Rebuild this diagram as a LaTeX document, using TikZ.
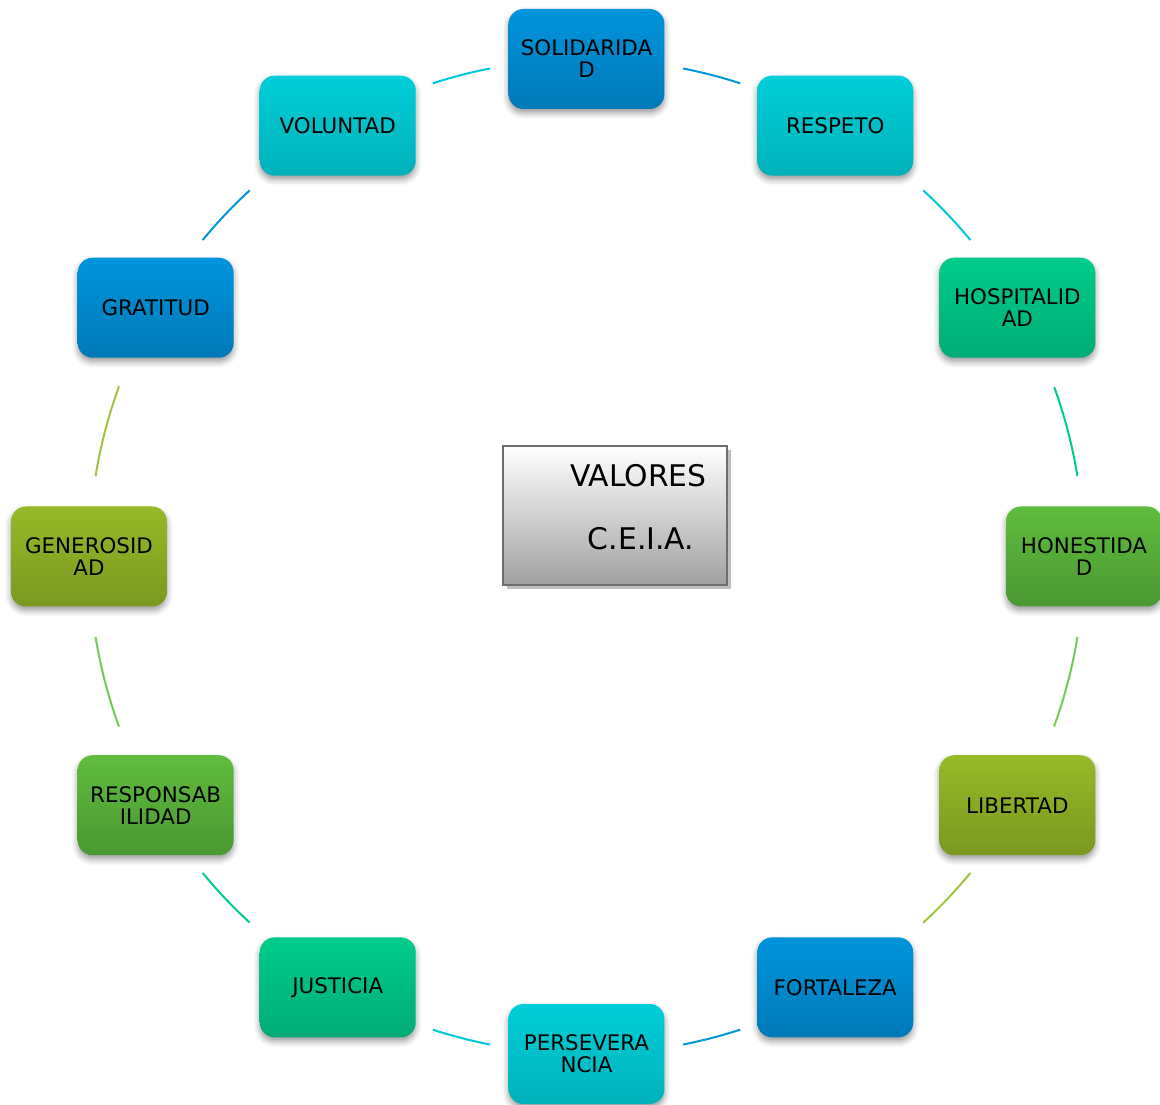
\documentclass[tikz,border=0pt]{standalone}
\usepackage{fontspec}
\setmainfont{DejaVu Sans}
\usetikzlibrary{shadows,shadows.blur}
\definecolor{bT}{RGB}{0,148,220}\definecolor{bB}{RGB}{0,122,184}
\definecolor{cT}{RGB}{0,206,216}\definecolor{cB}{RGB}{0,178,186}
\definecolor{tT}{RGB}{0,204,138}\definecolor{tB}{RGB}{0,172,118}
\definecolor{gT}{RGB}{96,188,62}\definecolor{gB}{RGB}{74,152,50}
\definecolor{oT}{RGB}{150,186,40}\definecolor{oB}{RGB}{122,152,32}
\definecolor{bA}{RGB}{0,150,216}
\definecolor{cA}{RGB}{0,200,220}
\definecolor{tA}{RGB}{0,204,140}
\definecolor{gA}{RGB}{112,204,84}
\definecolor{oA}{RGB}{160,196,64}
\tikzset{
  val/.style={rounded corners=15pt, minimum width=156pt, minimum height=100pt, inner sep=0pt,
    align=center, font=\fontsize{21.4}{22}\selectfont, text=black,
    blur shadow={shadow xshift=0pt, shadow yshift=-4pt, shadow blur radius=6pt, shadow opacity=40}},
  vb/.style={val, top color=bT, bottom color=bB},
  vc/.style={val, top color=cT, bottom color=cB},
  vt/.style={val, top color=tT, bottom color=tB},
  vg/.style={val, top color=gT, bottom color=gB},
  vo/.style={val, top color=oT, bottom color=oB},
  link/.style={line width=2pt}
}
\newcommand{\R}{497.5}
\begin{document}
\begin{tikzpicture}[x=1pt,y=1pt]
\useasboundingbox (-586.5,-548.5) rectangle (573.5,556.5);
\coordinate (O) at (0,0);
% arcs
\draw[link,bA] ([shift={(78.8:\R)}]O) arc[start angle=78.8, end angle=72, radius=\R];
\draw[link,cA] ([shift={(47.4:\R)}]O) arc[start angle=47.4, end angle=39.5, radius=\R];
\draw[link,tA] ([shift={(19.9:\R)}]O) arc[start angle=19.9, end angle=9.3, radius=\R];
\draw[link,gA] ([shift={(-9.3:\R)}]O) arc[start angle=-9.3, end angle=-20, radius=\R];
\draw[link,oA] ([shift={(-39.5:\R)}]O) arc[start angle=-39.5, end angle=-47.4, radius=\R];
\draw[link,bA] ([shift={(-72:\R)}]O) arc[start angle=-72, end angle=-78.8, radius=\R];
\draw[link,cA] ([shift={(-101.2:\R)}]O) arc[start angle=-101.2, end angle=-108, radius=\R];
\draw[link,tA] ([shift={(-132.6:\R)}]O) arc[start angle=-132.6, end angle=-140.5, radius=\R];
\draw[link,gA] ([shift={(-160:\R)}]O) arc[start angle=-160, end angle=-170.7, radius=\R];
\draw[link,oA] ([shift={(170.7:\R)}]O) arc[start angle=170.7, end angle=160, radius=\R];
\draw[link,bA] ([shift={(140.5:\R)}]O) arc[start angle=140.5, end angle=132.6, radius=\R];
\draw[link,cA] ([shift={(108:\R)}]O) arc[start angle=108, end angle=101.2, radius=\R];
% nodes
\node[vb] (n1) at (90:\R) {SOLIDARIDA\\D};
\node[vc] (n2) at (60:\R) {RESPETO};
\node[vt] (n3) at (30:\R) {HOSPITALID\\AD};
\node[vg] (n4) at (0:\R) {HONESTIDA\\D};
\node[vo] (n5) at (-30:\R) {LIBERTAD};
\node[vb] (n6) at (-60:\R) {FORTALEZA};
\node[vc] (n7) at (-90:\R) {PERSEVERA\\NCIA};
\node[vt] (n8) at (-120:\R) {JUSTICIA};
\node[vg] (n9) at (-150:\R) {RESPONSAB\\ILIDAD};
\node[vo] (n10) at (180:\R) {GENEROSID\\AD};
\node[vb] (n11) at (150:\R) {GRATITUD};
\node[vc] (n12) at (120:\R) {VOLUNTAD};
% center box
\fill[black!25] (-79.5,106.5) rectangle (144.5,-32.5);
\path[top color=white, bottom color=black!37, draw=black!57, line width=2pt]
  (-83.5,110.5) rectangle (140.5,-28.5);
\node[anchor=base, font=\fontsize{29.8}{30}\selectfont, inner sep=0pt] (t1) at (52,69.5) {VALORES};
\node[anchor=base, font=\fontsize{29.8}{30}\selectfont, inner sep=0pt] (t2) at (54.5,6.5) {C.E.I.A.};
\end{tikzpicture}
\end{document}
